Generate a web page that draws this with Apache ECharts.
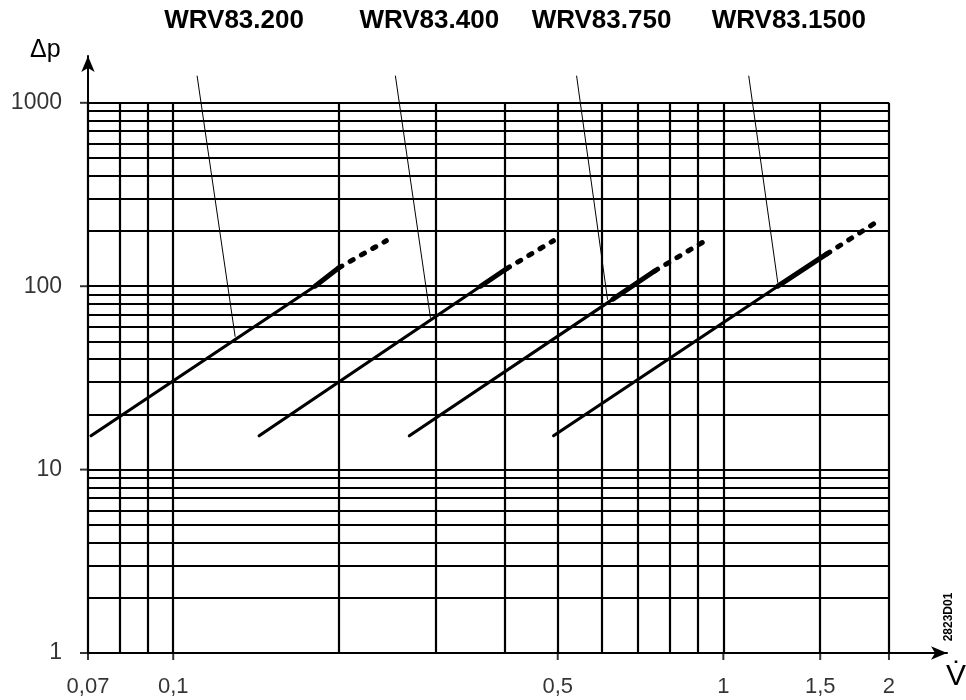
<!DOCTYPE html>
<html><head><meta charset="utf-8">
<script src="https://cdn.jsdelivr.net/npm/echarts@6/dist/echarts.min.js"></script>
<style>html,body{margin:0;padding:0;background:#fff}#c{width:966px;height:700px}</style>
</head><body><div id="c"></div>
<script>
// ---- data (flow V̇ in m³/h, pressure drop Δp in kPa) ----
const valveNames = ['WRV83.200', 'WRV83.400', 'WRV83.750', 'WRV83.1500'];
const thinPart = [
  [[0.0709, 15.3], [0.181, 100]],
  [[0.1433, 15.3], [0.362, 100]],
  [[0.2687, 15.3], [0.63, 85]],
  [[0.4913, 15.3], [1.256, 100]]
];
const thickPart = [
  [[0.181, 100], [0.200, 126]],
  [[0.362, 100], [0.4035, 124.5]],
  [[0.63, 85], [0.750, 121]],
  [[1.256, 100], [1.542, 150]]
];
const dashedPart = [
  [[0.200, 126], [0.244, 177]],
  [[0.4035, 124.5], [0.491, 177]],
  [[0.750, 121], [0.921, 175]],
  [[1.542, 150], [1.926, 230]]
];
const leaderTop = [[0.1105, 1406], [0.2534, 1406], [0.541, 1406], [1.112, 1406]];
const leaderEnd = [[0.1296, 53], [0.2935, 67.2], [0.616, 84.3], [1.256, 104.4]];
const calloutX = [0.129, 0.292, 0.6006, 1.315];
const calloutY = 1406;

const xGrid = [0.07, 0.08, 0.09, 0.1, 0.2, 0.3, 0.4, 0.5, 0.6, 0.7, 0.8, 0.9, 1, 1.5, 2];
const yGrid = [1, 2, 3, 4, 5, 6, 7, 8, 9, 10, 20, 30, 40, 50, 60, 70, 80, 90,
               100, 200, 300, 400, 500, 600, 700, 800, 900, 1000];
const xTicks = [0.07, 0.1, 0.5, 1, 1.5, 2];
const xTickLabels = ['0,07', '0,1', '0,5', '1', '1,5', '2'];
const yTicks = [1, 10, 100, 1000];
const yTickLabels = ['1', '10', '100', '1000'];

const xMin = 0.07, xMax = 2.55, yMin = 1, yMax = 1800;

// ---- chart ----
const FONT = "'Liberation Sans', Arial, sans-serif";
const chart = echarts.init(document.getElementById('c'), null, {renderer: 'canvas'});

const gridLines = [];
xGrid.forEach(v => gridLines.push([{coord: [v, yGrid[0]]}, {coord: [v, yGrid[yGrid.length - 1]]}]));
yGrid.forEach(v => gridLines.push([{coord: [xGrid[0], v]}, {coord: [xGrid[xGrid.length - 1], v]}]));

const series = [{
  type: 'line', data: [[xGrid[0], yGrid[0]]], symbol: 'none', lineStyle: {width: 0},
  z: 1, silent: true,
  markLine: {
    silent: true, symbol: 'none', animation: false,
    label: {show: false},
    lineStyle: {color: '#000', width: 2.2, type: 'solid'},
    emphasis: {disabled: true},
    data: gridLines
  }
}];

valveNames.forEach((name, i) => {
  series.push({
    type: 'line', name: name + ' a', data: thinPart[i], symbol: 'none', z: 4, silent: true,
    lineStyle: {color: '#000', width: 3.2, cap: 'round'}
  });
  series.push({
    type: 'line', name: name + ' b', data: thickPart[i], symbol: 'none', z: 4, silent: true,
    lineStyle: {color: '#000', width: 5, cap: 'round'},
    markLine: {
      silent: true, symbol: 'none', animation: false, label: {show: false},
      lineStyle: {color: '#000', width: 1, type: 'solid'},
      emphasis: {disabled: true},
      data: [[{coord: leaderTop[i]}, {coord: leaderEnd[i]}]]
    },
    markPoint: {
      silent: true, animation: false, symbol: 'circle', symbolSize: 1,
      itemStyle: {color: 'rgba(0,0,0,0)'},
      label: {show: true, position: 'inside', offset: [0, -55], formatter: name,
        color: '#000', fontSize: 26, fontWeight: 'bold', fontFamily: FONT},
      data: [{coord: [calloutX[i], calloutY]}]
    }
  });
  series.push({
    type: 'line', name: name + ' c', data: dashedPart[i], symbol: 'none', z: 4, silent: true,
    lineStyle: {color: '#000', width: 5, type: [3.5, 9.5], cap: 'round'}
  });
});

// ticks + labels on x axis
series.push({
  type: 'scatter', data: xTicks.map((v, i) => ({value: [v, yMin], name: xTickLabels[i]})),
  symbol: 'rect', symbolSize: [2, 7], symbolOffset: [0, 3.5], clip: false, silent: true, z: 5,
  itemStyle: {color: '#000'},
  label: {show: true, position: 'bottom', distance: 16, formatter: '{b}',
    color: '#000', fontSize: 22, fontFamily: FONT}
});
// ticks + labels on y axis
series.push({
  type: 'scatter', data: yTicks.map((v, i) => ({value: [xMin, v], name: yTickLabels[i]})),
  symbol: 'rect', symbolSize: [8, 2], symbolOffset: [-4, 0], clip: false, silent: true, z: 5,
  itemStyle: {color: '#000'},
  label: {show: true, position: 'left', distance: 18, formatter: '{b}',
    color: '#000', fontSize: 23, fontFamily: FONT}
});

chart.setOption({
  animation: false,
  backgroundColor: '#fff',
  grid: {left: 88, right: 19, top: 56, bottom: 47, containLabel: false},
  xAxis: {
    type: 'log', logBase: 10, min: xMin, max: xMax,
    axisLine: {show: true, lineStyle: {color: '#000', width: 2}, symbol: ['none', 'arrow'], symbolSize: [10, 16]},
    axisTick: {show: false}, axisLabel: {show: false}, splitLine: {show: false}
  },
  yAxis: {
    type: 'log', logBase: 10, min: yMin, max: yMax,
    axisLine: {show: true, lineStyle: {color: '#000', width: 2}, symbol: ['none', 'arrow'], symbolSize: [10, 16]},
    axisTick: {show: false}, axisLabel: {show: false}, splitLine: {show: false}
  },
  graphic: [
    {type: 'text', left: 30, top: 38, silent: true,
      style: {text: 'Δp', fontSize: 25, fill: '#000', fontFamily: FONT}},
    {type: 'text', left: 946, top: 662, silent: true,
      style: {text: 'V\u0307', fontSize: 30, fill: '#000', fontFamily: FONT}},
    {type: 'text', x: 949, y: 617, rotation: Math.PI / 2, silent: true,
      style: {text: '2823D01', fontSize: 12, fontWeight: 'bold', fill: '#000', fontFamily: FONT,
        align: 'center', verticalAlign: 'middle'}}
  ],
  series: series
});
</script>
</body></html>
